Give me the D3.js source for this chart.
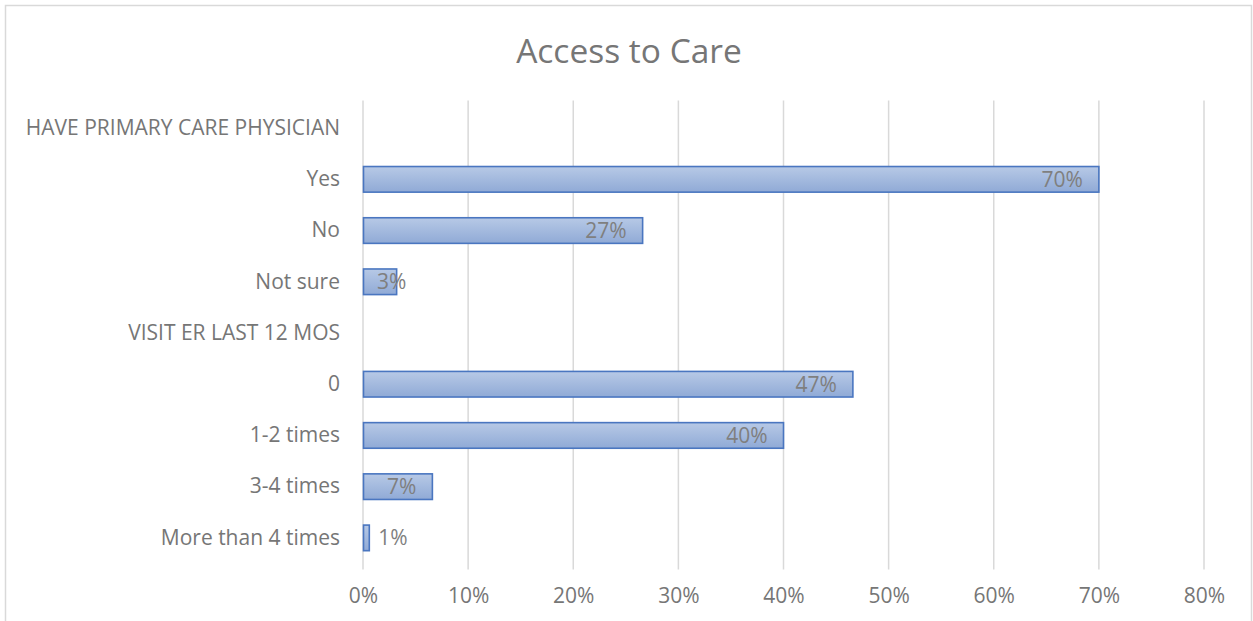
<!DOCTYPE html>
<html>
<head>
<meta charset="utf-8">
<script src="https://cdn.jsdelivr.net/npm/d3@7"></script>
<style>
  html, body { margin: 0; padding: 0; background: #fff; }
  svg { display: block; }
  text { font-family: "Open Sans", Lato, sans-serif; }
</style>
</head>
<body>
<svg id="chart" width="1253" height="621"></svg>
<script>
// Survey categories (section headers have no value)
const categories = [
  "HAVE PRIMARY CARE PHYSICIAN", "Yes", "No", "Not sure",
  "VISIT ER LAST 12 MOS", "0", "1-2 times", "3-4 times", "More than 4 times"
];
const values = [null, 0.70, 0.266, 0.032, null, 0.466, 0.40, 0.066, 0.006];
const xTicks = [0, 0.1, 0.2, 0.3, 0.4, 0.5, 0.6, 0.7, 0.8];
const title = "Access to Care";

const svg = d3.select("#chart");
const W = 1253, H = 621;
const textColor = "#767676";
const labelSize = 21;

// outer chart frame
svg.append("rect")
  .attr("x", 5.5).attr("y", 5.5)
  .attr("width", W - 7).attr("height", H + 20)
  .attr("fill", "#fff").attr("stroke", "#d9d9d9").attr("stroke-width", 1.5);

const margin = { left: 363, right: 49, top: 102.5, bottom: 57.5 };
const x = d3.scaleLinear().domain([0, 0.8]).range([margin.left, W - margin.right]);
const y = d3.scaleBand().domain(categories)
  .range([margin.top, H - margin.bottom]).paddingInner(0.5).paddingOuter(0.25);

// gridlines
svg.append("g").selectAll("line").data(xTicks).join("line")
  .attr("x1", d => x(d)).attr("x2", d => x(d))
  .attr("y1", margin.top - 2).attr("y2", H - margin.bottom + 6)
  .attr("stroke", "#d9d9d9").attr("stroke-width", 1.5);

// x axis labels
const xAxis = d3.axisBottom(x).tickValues(xTicks).tickFormat(d3.format(".0%")).tickSize(0).tickPadding(0);
const gx = svg.append("g").attr("transform", `translate(0, 588)`).call(xAxis);
gx.select(".domain").remove();
gx.selectAll("text").attr("fill", textColor).attr("font-size", labelSize)
  .attr("font-family", "'Open Sans', Lato, sans-serif");

// category labels
const yAxis = d3.axisLeft(y).tickSize(0).tickPadding(23);
const gy = svg.append("g").attr("transform", `translate(${margin.left}, 0)`).call(yAxis);
gy.select(".domain").remove();
gy.selectAll("text").attr("fill", textColor).attr("font-size", labelSize)
  .attr("font-family", "'Open Sans', Lato, sans-serif");

// bar gradient
const defs = svg.append("defs");
const grad = defs.append("linearGradient").attr("id", "barGrad")
  .attr("x1", 0).attr("y1", 0).attr("x2", 0).attr("y2", 1);
grad.append("stop").attr("offset", "0%").attr("stop-color", "#b7c9e6");
grad.append("stop").attr("offset", "100%").attr("stop-color", "#90aad6");

const rows = categories.map((c, i) => ({ c, v: values[i] })).filter(d => d.v !== null);

svg.append("g").selectAll("rect").data(rows).join("rect")
  .attr("x", x(0) + 0.5)
  .attr("y", d => y(d.c))
  .attr("width", d => x(d.v) - x(0) - 0.5)
  .attr("height", y.bandwidth())
  .attr("fill", "url(#barGrad)")
  .attr("stroke", "#4a76c0").attr("stroke-width", 1.6);

// value labels (inside end, or outside when bar is too short)
const fmt = d3.format(".0%");
const lbl = svg.append("g").selectAll("text").data(rows).join("text")
  .attr("y", d => y(d.c) + y.bandwidth() / 2)
  .attr("dy", "0.35em")
  .attr("fill", "#7f7f7f").attr("font-size", labelSize)
  .text(d => fmt(d.v));
lbl.each(function(d) {
  const t = d3.select(this);
  const w = this.getComputedTextLength();
  const end = x(d.v);
  if (end - x(0) < 20) {
    t.attr("x", end + 9).attr("text-anchor", "start");
  } else {
    const right = Math.max(end - 16, x(0) + 14 + w);
    t.attr("x", right).attr("text-anchor", "end");
  }
});

// title
svg.append("text").attr("x", 629).attr("y", 63)
  .attr("text-anchor", "middle").attr("fill", textColor)
  .attr("font-size", 33.5).text(title);
</script>
</body>
</html>
